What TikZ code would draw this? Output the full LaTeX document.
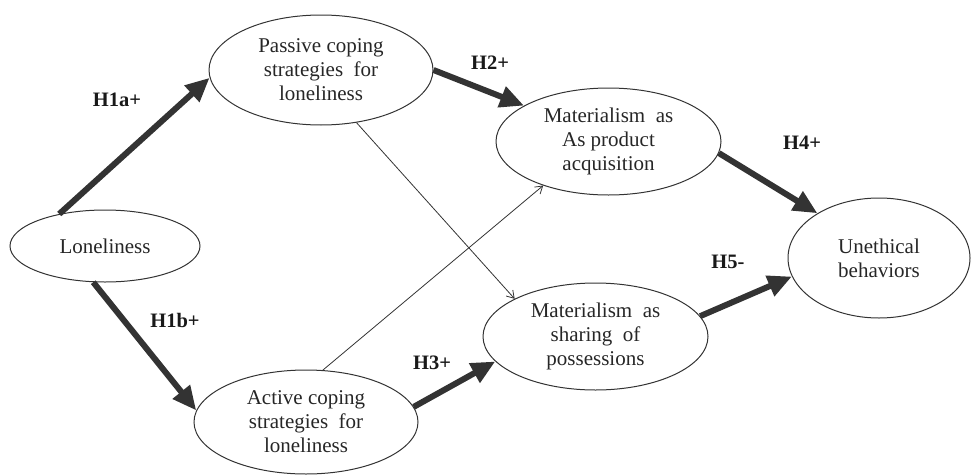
\documentclass[tikz,border=0pt]{standalone}
\usepackage{fontspec}
\setmainfont{Liberation Serif}
\usetikzlibrary{shapes.geometric,arrows.meta}
\definecolor{ink}{HTML}{333333}
\begin{document}
\begin{tikzpicture}[x=1pt,y=-1pt,
  ell/.style={ellipse,draw=ink,line width=1pt,inner sep=0pt,align=center,
    font=\fontsize{21}{24}\selectfont,text=black!85},
  big/.style={draw=ink,line width=6pt,-{Triangle[length=24pt,width=21pt]},fill=ink},
  thin/.style={draw=ink,line width=0.8pt,-{Straight Barb[length=7pt,width=9pt]}},
  lab/.style={font=\fontsize{20.5}{24}\selectfont\bfseries,text=black!90}]
\useasboundingbox (0,0) rectangle (974,474);
\node[ell,minimum width=190pt,minimum height=72pt] (lon) at (105,246) {Loneliness};
\node[ell,minimum width=224pt,minimum height=110pt] (pas) at (321,70) {Passive coping\\strategies\ \ for\\loneliness};
\node[ell,minimum width=224pt,minimum height=104pt] (act) at (306,422) {Active coping\\strategies\ \ for\\loneliness};
\node[ell,minimum width=225pt,minimum height=107pt] (acq) at (608.5,141.5) {Materialism\ \ as\\As product\\acquisition};
\node[ell,minimum width=225pt,minimum height=107pt] (sha) at (595.5,336.5) {Materialism\ \ as\\sharing\ \ of\\possessions};
\node[ell,minimum width=182pt,minimum height=120pt] (une) at (879,258) {Unethical\\behaviors};
\draw[big] (lon.145) -- (pas.184);
\draw[big] (lon.252) -- (act.174);
\draw[big] (pas.0) -- (acq.157);
\draw[big] (act.8) -- (sha.194);
\draw[big] (acq.-6) -- (une.144);
\draw[big] (sha.11) -- (une.192);
\draw[thin] (pas.-56) -- (sha.155);
\draw[thin] (act.72) -- (acq.214);
\node[lab] (l1) at (117,100) {H1a+};
\node[lab] (l2) at (490,63) {H2+};
\node[lab] (l3) at (175,320) {H1b+};
\node[lab] (l4) at (432,363) {H3+};
\node[lab] (l5) at (802,143) {H4+};
\node[lab] (l6) at (728,262) {H5-};
\end{tikzpicture}
\end{document}
